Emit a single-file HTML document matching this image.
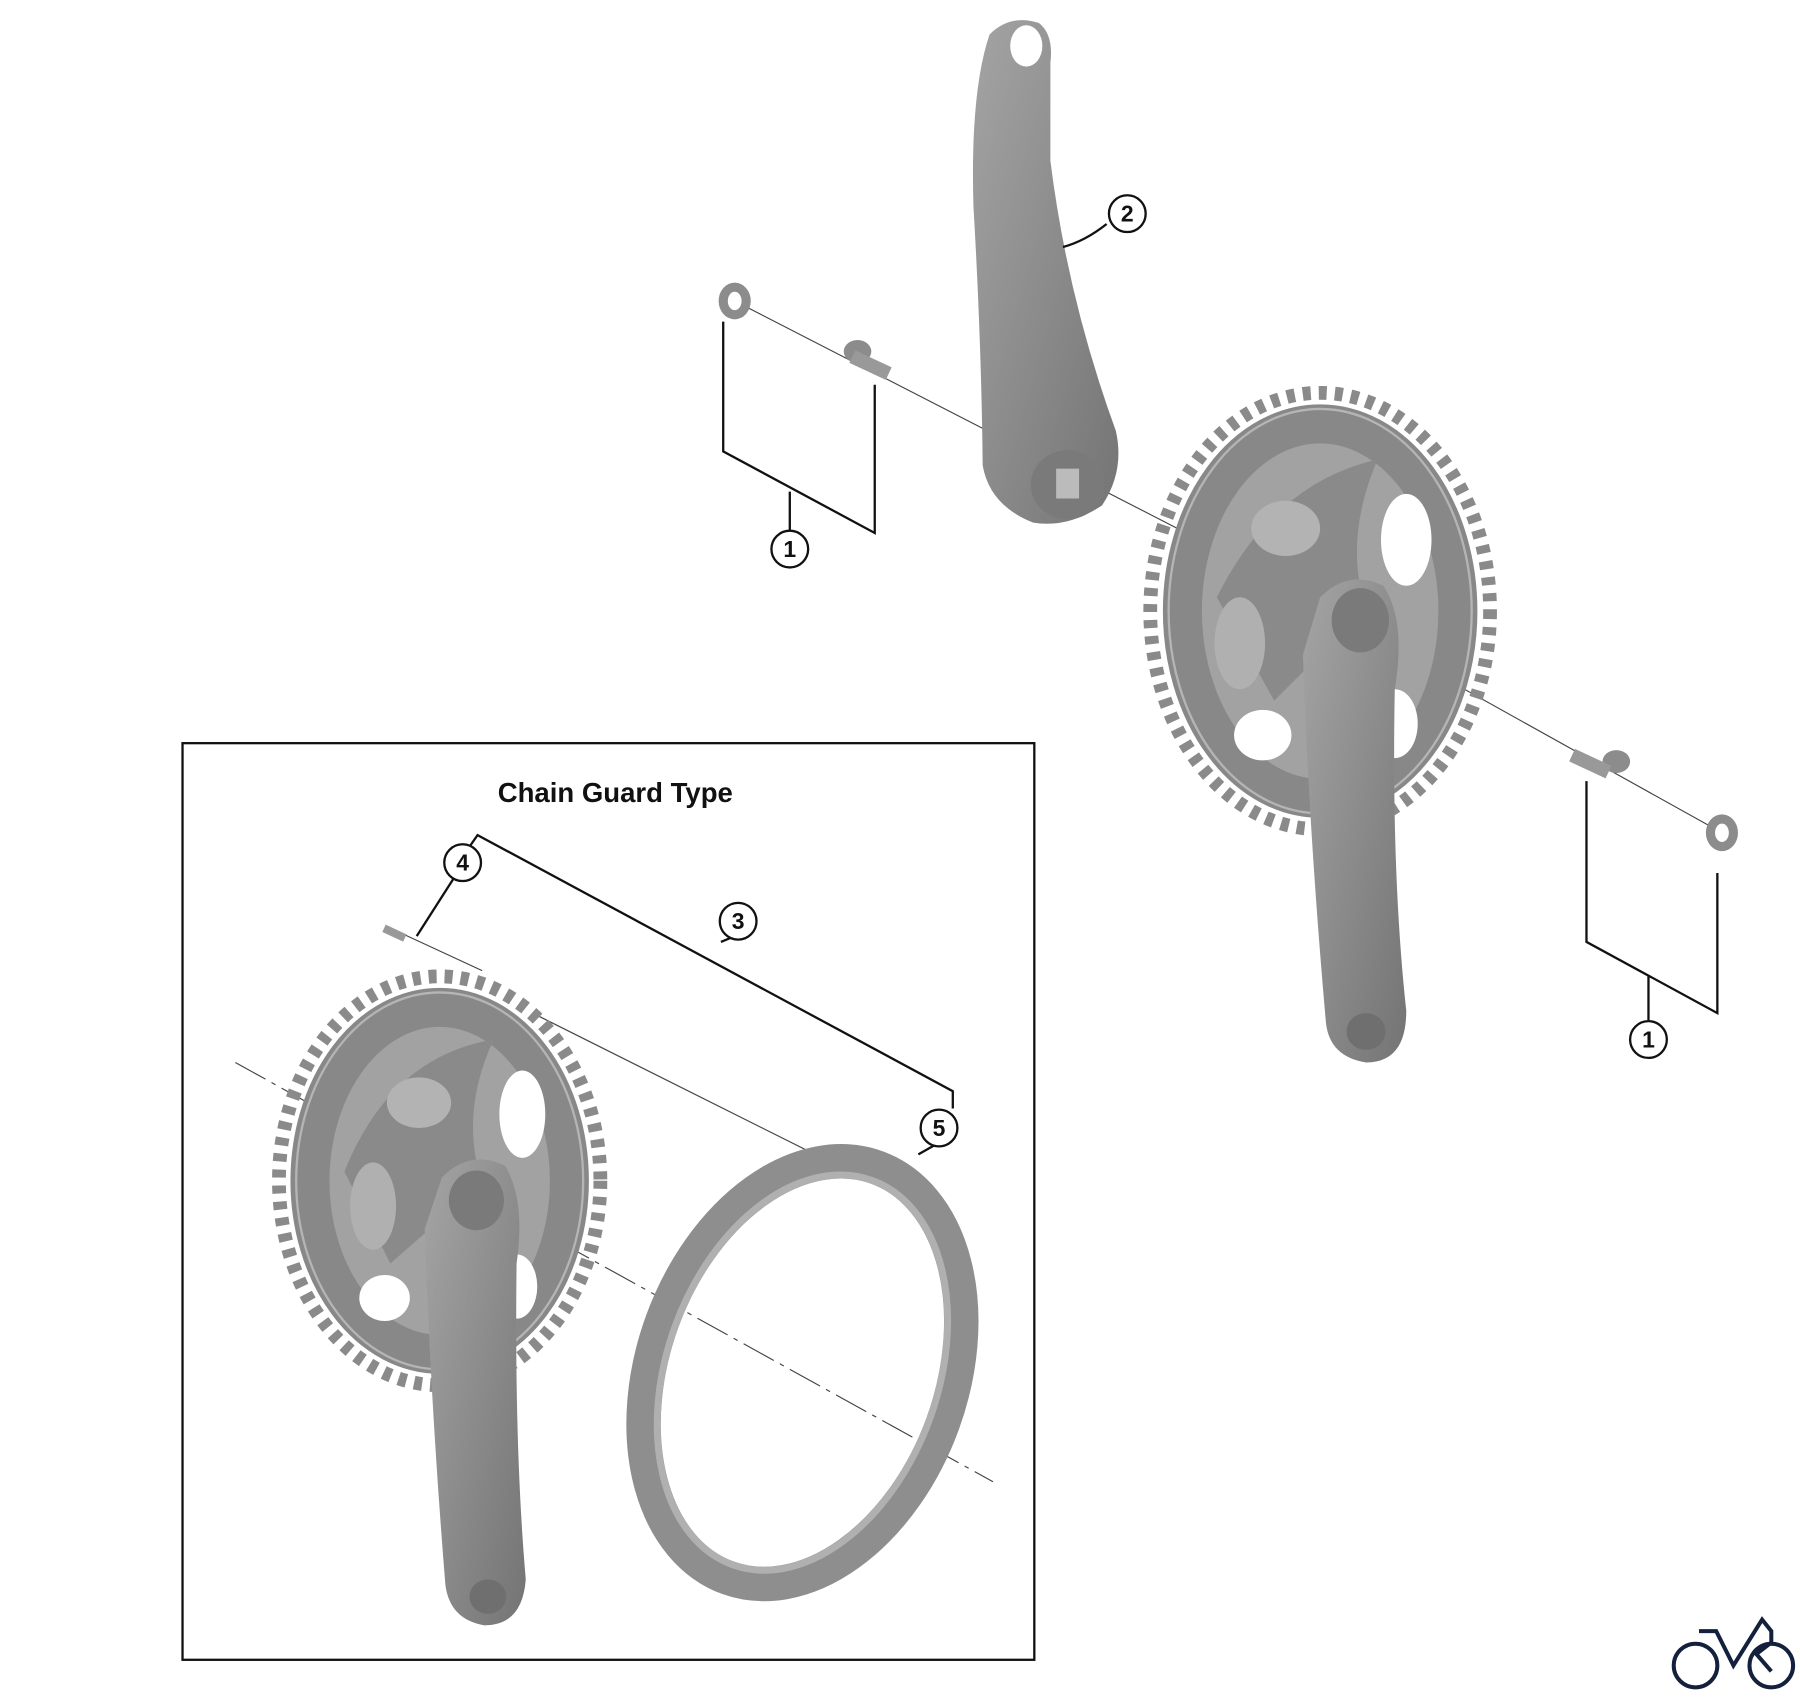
<!DOCTYPE html>
<html><head><meta charset="utf-8"><style>html,body{margin:0;padding:0;background:#fff}svg{display:block}</style></head>
<body>
<svg width="1800" height="1700" viewBox="0 0 1568 1480" preserveAspectRatio="none" xmlns="http://www.w3.org/2000/svg" font-family="Liberation Sans, sans-serif">
<defs>
<linearGradient id="g" x1="0" y1="0" x2="1" y2="1"><stop offset="0" stop-color="#a4a4a4"/><stop offset="1" stop-color="#747474"/></linearGradient>
</defs>
<g stroke="#444" stroke-width="1" fill="none">
<line x1="640" y1="262" x2="1045" y2="470"/>
<line x1="1150" y1="530" x2="1500" y2="725"/>
<line x1="340" y1="808" x2="420" y2="845"/>
<line x1="205" y1="925" x2="865" y2="1290" stroke-dasharray="30,6,4,6"/>
<line x1="470" y1="885" x2="780" y2="1040"/>
</g>
<!-- top crank arm -->
<path d="M862,30 Q880,12 905,20 Q918,30 915,55 L915,140 Q930,260 972,375 Q980,410 960,440 Q930,460 900,455 Q862,440 856,405 Q855,300 848,180 Q845,80 862,30Z" fill="url(#g)"/>
<ellipse cx="894" cy="40" rx="14" ry="18" fill="#fff"/>
<ellipse cx="930" cy="422" rx="32" ry="30" fill="#7a7a7a"/>
<rect x="920" y="408" width="20" height="26" fill="#bbb"/>
<!-- main chainring -->
<ellipse cx="1150" cy="532" rx="148" ry="190" fill="none" stroke="#8a8a8a" stroke-width="12" stroke-dasharray="7,7"/>
<ellipse cx="1150" cy="532" rx="120" ry="163" fill="#a2a2a2" stroke="#888" stroke-width="34"/>
<ellipse cx="1150" cy="532" rx="132" ry="176" fill="none" stroke="#b5b5b5" stroke-width="2"/>
<ellipse cx="1225" cy="470" rx="22" ry="40" fill="#fff"/>
<ellipse cx="1215" cy="630" rx="20" ry="30" fill="#fff"/>
<ellipse cx="1100" cy="640" rx="25" ry="22" fill="#fff"/>
<path d="M1060,520 Q1110,420 1200,400 Q1170,470 1190,530 L1110,610Z" fill="#8a8a8a"/>
<ellipse cx="1120" cy="460" rx="30" ry="24" fill="#b3b3b3"/>
<ellipse cx="1080" cy="560" rx="22" ry="40" fill="#b0b0b0"/>
<path d="M1150,520 Q1175,495 1205,510 Q1225,540 1215,600 Q1212,760 1225,880 Q1225,925 1190,925 Q1158,920 1155,890 Q1140,720 1135,570Z" fill="url(#g)"/>
<ellipse cx="1185" cy="540" rx="25" ry="28" fill="#7a7a7a"/>
<ellipse cx="1190" cy="898" rx="17" ry="16" fill="#6f6f6f"/>
<!-- small parts -->
<ellipse cx="640" cy="262" rx="14" ry="16" fill="#8c8c8c"/><ellipse cx="640" cy="262" rx="6" ry="8" fill="#fff"/>
<ellipse cx="747" cy="306" rx="12" ry="10" fill="#8c8c8c"/><rect x="745" y="305" width="35" height="12" fill="#999" transform="rotate(25 745 305)"/>
<ellipse cx="1408" cy="663" rx="12" ry="10" fill="#8c8c8c"/><rect x="1372" y="652" width="35" height="12" fill="#999" transform="rotate(25 1372 652)"/>
<ellipse cx="1500" cy="725" rx="14" ry="16" fill="#8c8c8c"/><ellipse cx="1500" cy="725" rx="6" ry="8" fill="#fff"/>
<g stroke="#111" stroke-width="2" fill="none">
<polyline points="630,280 630,393 762,464 762,335"/>
<line x1="688" y1="428" x2="688" y2="462"/>
<path d="M926,215 Q945,210 964,195"/>
<polyline points="1382,680 1382,820 1496,882 1496,760"/>
<line x1="1436" y1="850" x2="1436" y2="888"/>
<polyline points="400,750 416,727 830,950 830,965"/>
<line x1="628" y1="820" x2="640" y2="815"/>
<line x1="395" y1="765" x2="363" y2="815"/>
<line x1="814" y1="997" x2="800" y2="1005"/>
</g>
<g fill="#fff" stroke="#111" stroke-width="2">
<circle cx="982" cy="186" r="16"/><circle cx="688" cy="478" r="16"/><circle cx="1436" cy="905" r="16"/>
<circle cx="403" cy="751" r="16"/><circle cx="643" cy="802" r="16"/><circle cx="818" cy="982" r="16"/>
</g>
<g font-size="20" font-weight="bold" text-anchor="middle" fill="#111">
<text x="982" y="193">2</text><text x="688" y="485">1</text><text x="1436" y="912">1</text>
<text x="403" y="758">4</text><text x="643" y="809">3</text><text x="818" y="989">5</text>
</g>
<rect x="159" y="647" width="742" height="798" fill="none" stroke="#111" stroke-width="2"/>
<text x="536" y="698" font-size="24" font-weight="bold" text-anchor="middle" fill="#111">Chain Guard Type</text>
<rect x="336" y="805" width="20" height="7" fill="#999" transform="rotate(25 336 805)"/>
<!-- second chainring -->
<ellipse cx="383" cy="1028" rx="140" ry="178" fill="none" stroke="#8a8a8a" stroke-width="12" stroke-dasharray="7,7"/>
<ellipse cx="383" cy="1028" rx="113" ry="151" fill="#a2a2a2" stroke="#888" stroke-width="34"/>
<ellipse cx="383" cy="1028" rx="125" ry="164" fill="none" stroke="#b5b5b5" stroke-width="2"/>
<ellipse cx="455" cy="970" rx="20" ry="38" fill="#fff"/>
<ellipse cx="450" cy="1120" rx="18" ry="28" fill="#fff"/>
<ellipse cx="335" cy="1130" rx="22" ry="20" fill="#fff"/>
<path d="M300,1020 Q340,920 430,905 Q400,970 420,1030 L340,1100Z" fill="#8a8a8a"/>
<ellipse cx="365" cy="960" rx="28" ry="22" fill="#b3b3b3"/>
<ellipse cx="325" cy="1050" rx="20" ry="38" fill="#b0b0b0"/>
<path d="M385,1025 Q410,1000 440,1015 Q458,1045 450,1100 Q448,1260 458,1375 Q455,1415 422,1415 Q392,1410 388,1380 Q375,1220 370,1070Z" fill="url(#g)"/>
<ellipse cx="415" cy="1045" rx="24" ry="26" fill="#7a7a7a"/>
<ellipse cx="425" cy="1390" rx="16" ry="15" fill="#6f6f6f"/>
<!-- guard ring -->
<ellipse cx="699" cy="1195" rx="130" ry="190" transform="rotate(20 699 1195)" fill="none" stroke="#8e8e8e" stroke-width="30"/>
<ellipse cx="699" cy="1195" rx="118" ry="178" transform="rotate(20 699 1195)" fill="none" stroke="#b0b0b0" stroke-width="6"/>
<g stroke="#14213d" stroke-width="3.5" fill="none" transform="translate(1455,1395)">
<circle cx="22" cy="55" r="19"/><circle cx="88" cy="55" r="19"/>
<polyline points="25,25 40,25 55,55 80,15 88,25 88,35 75,45 88,60"/>
</g>
</svg>
</body></html>
